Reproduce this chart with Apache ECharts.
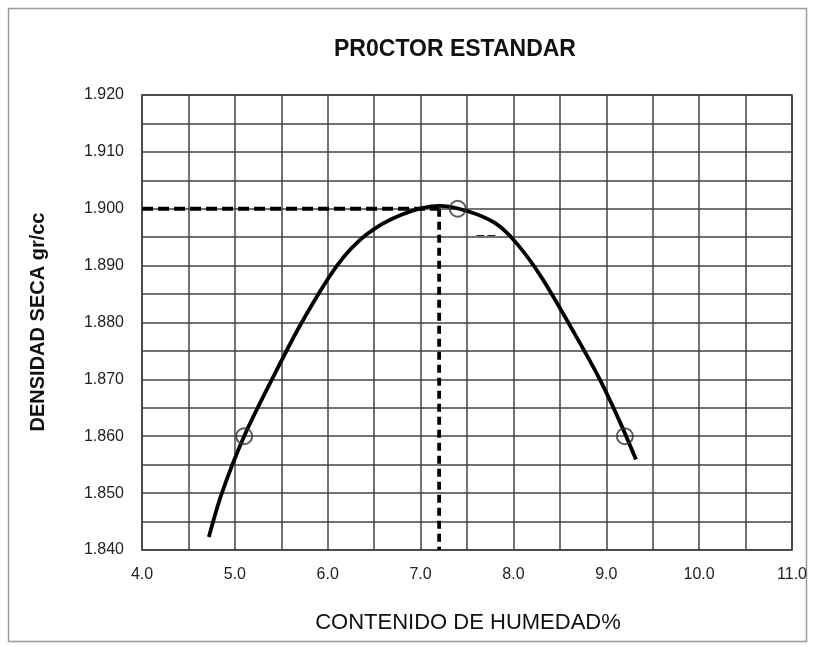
<!DOCTYPE html>
<html>
<head>
<meta charset="utf-8">
<script src="https://cdn.jsdelivr.net/npm/echarts@6/dist/echarts.min.js"></script>
<style>
  html, body { margin: 0; padding: 0; background: #fff; }
  #chart { width: 813px; height: 647px; }
</style>
</head>
<body>
<div id="chart"></div>
<script>
// --- datos ---
const xTicks = [4, 5, 6, 7, 8, 9, 10, 11];          // contenido de humedad %
const yTicks = [1.84, 1.85, 1.86, 1.87, 1.88, 1.89, 1.90, 1.91, 1.92];

// puntos del ensayo (circulos)
const ensayoX = [5.1, 7.4, 9.2];
const ensayoY = [1.860, 1.900, 1.860];

// curva ajustada a mano
const curvaX = [4.72, 4.86, 5.10, 5.40, 5.72, 6.10, 6.42, 6.80, 7.20, 7.50, 7.80, 8.03, 8.30, 8.66, 8.93, 9.15, 9.32];
const curvaY = [1.8423, 1.850, 1.860, 1.870, 1.880, 1.890, 1.8955, 1.899, 1.9005, 1.8996, 1.8975, 1.894, 1.888, 1.878, 1.870, 1.8624, 1.8559];

// humedad optima y densidad maxima
const humOptima = 7.2;
const densMax = 1.900;

const zip = (xs, ys) => xs.map((x, i) => [x, ys[i]]);

const chart = echarts.init(document.getElementById('chart'));

const option = {
  backgroundColor: '#fff',
  animation: false,
  textStyle: { fontFamily: '"Liberation Sans", Arial, sans-serif' },
  graphic: [
    {
      type: 'rect',
      shape: { x: 8.5, y: 8.5, width: 798, height: 633 },
      style: { fill: 'none', stroke: '#9a9a9a', lineWidth: 1.5 },
      silent: true
    },
    {
      type: 'text', x: 455, y: 50,
      style: {
        text: 'PR0CTOR ESTANDAR', textAlign: 'center', textVerticalAlign: 'middle',
        font: 'bold 23px "Liberation Sans Narrow", "Liberation Sans", Arial, sans-serif', fill: '#111'
      }
    },
    {
      type: 'text', x: 468, y: 623,
      style: {
        text: 'CONTENIDO DE HUMEDAD%', textAlign: 'center', textVerticalAlign: 'middle',
        font: '22px "Liberation Sans", Arial, sans-serif', fill: '#111'
      }
    },
    {
      type: 'text', x: 38, y: 322, rotation: Math.PI / 2,
      style: {
        text: 'DENSIDAD SECA gr/cc', textAlign: 'center', textVerticalAlign: 'middle',
        font: 'bold 20px "Liberation Sans", Arial, sans-serif', fill: '#111'
      }
    }
  ],
  grid: {
    left: 142, right: 21, top: 95, bottom: 97,
    show: true, borderColor: '#333', borderWidth: 1.5, backgroundColor: '#fff'
  },
  xAxis: {
    type: 'value',
    min: xTicks[0], max: xTicks[xTicks.length - 1], interval: 1,
    axisLine: { show: false },
    axisTick: { show: false },
    axisLabel: { margin: 17, fontSize: 16, color: '#222', formatter: v => v.toFixed(1) },
    splitLine: { show: true, lineStyle: { color: '#444', width: 1.5 } },
    minorTick: { show: false, splitNumber: 2 },
    minorSplitLine: { show: true, lineStyle: { color: '#444', width: 1.5 } }
  },
  yAxis: {
    type: 'value',
    min: yTicks[0], max: yTicks[yTicks.length - 1], interval: 0.01,
    axisLine: { show: false },
    axisTick: { show: false },
    axisLabel: { margin: 18, fontSize: 16, color: '#222', formatter: v => v.toFixed(3) },
    splitLine: { show: true, lineStyle: { color: '#444', width: 1.5 } },
    minorTick: { show: false, splitNumber: 2 },
    minorSplitLine: { show: true, lineStyle: { color: '#444', width: 1.5 } }
  },
  series: [
    {
      name: 'curva',
      type: 'line',
      data: zip(curvaX, curvaY),
      smooth: 0.3,
      showSymbol: false,
      lineStyle: { color: '#000', width: 3.8 },
      z: 3
    },
    {
      name: 'densidad maxima',
      type: 'line',
      data: [[xTicks[0], densMax], [humOptima, densMax]],
      showSymbol: false,
      lineStyle: { color: '#000', width: 3.8, type: [11, 5] },
      z: 2
    },
    {
      name: 'humedad optima',
      type: 'line',
      data: [[humOptima, densMax], [humOptima, yTicks[0]]],
      showSymbol: false,
      lineStyle: { color: '#000', width: 3.8, type: [8, 5] },
      z: 2
    },
    {
      name: 'trazo',
      type: 'line',
      data: [[7.6, 1.8953], [7.82, 1.8953]],
      showSymbol: false,
      lineStyle: { color: '#222', width: 1.2, type: [8, 3] },
      z: 2
    },
    {
      name: 'ensayo',
      type: 'scatter',
      data: zip(ensayoX, ensayoY),
      symbol: 'circle',
      symbolSize: 16,
      itemStyle: { color: 'rgba(0,0,0,0)', borderColor: '#333', borderWidth: 2 },
      z: 4
    }
  ]
};

chart.setOption(option);
</script>
</body>
</html>
